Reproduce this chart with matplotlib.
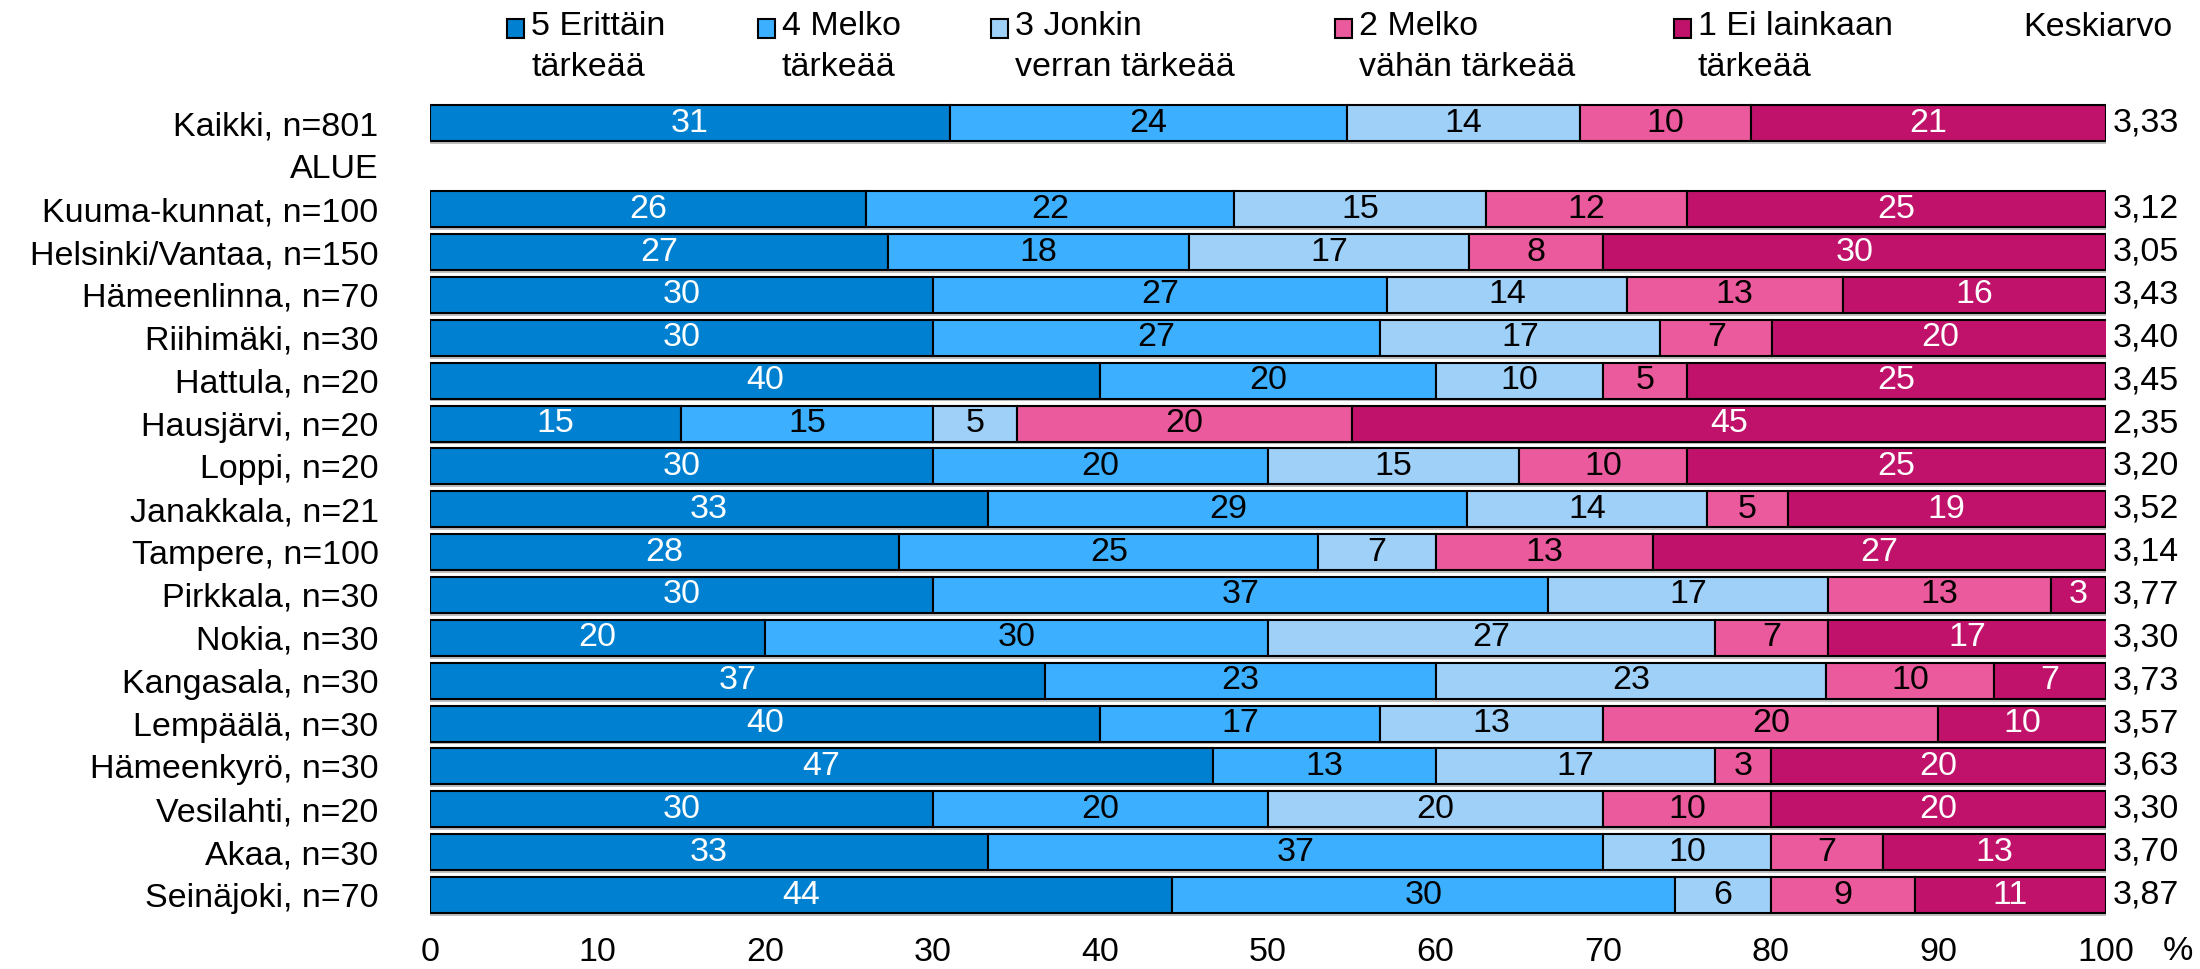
import matplotlib
matplotlib.use("Agg")
import matplotlib.pyplot as plt
import matplotlib.patheffects as pe
from matplotlib.patches import Rectangle
import numpy as np

plt.rcParams['font.family'] = ['Liberation Sans', 'DejaVu Sans']
plt.rcParams['font.size'] = 24.5

nan = np.nan

# rows, top to bottom ("ALUE" is a group header without a bar)
categories = ["Kaikki, n=801", "ALUE", "Kuuma-kunnat, n=100", "Helsinki/Vantaa, n=150",
              "Hämeenlinna, n=70", "Riihimäki, n=30", "Hattula, n=20", "Hausjärvi, n=20",
              "Loppi, n=20", "Janakkala, n=21", "Tampere, n=100", "Pirkkala, n=30",
              "Nokia, n=30", "Kangasala, n=30", "Lempäälä, n=30", "Hämeenkyrö, n=30",
              "Vesilahti, n=20", "Akaa, n=30", "Seinäjoki, n=70"]

# shares (%) per answer option
s5 = [31.0, nan, 26, 27.3, 30.0, 30.0, 40, 15, 30, 33.3, 28, 30.0, 20.0, 36.7, 40.0, 46.7, 30, 33.3, 44.3]
s4 = [23.7, nan, 22, 18.0, 27.1, 26.7, 20, 15, 20, 28.6, 25, 36.7, 30.0, 23.3, 16.7, 13.3, 20, 36.7, 30.0]
s3 = [13.9, nan, 15, 16.7, 14.3, 16.7, 10, 5, 15, 14.3, 7, 16.7, 26.7, 23.3, 13.3, 16.7, 20, 10.0, 5.7]
s2 = [10.2, nan, 12, 8.0, 12.9, 6.7, 5, 20, 10, 4.8, 13, 13.3, 6.7, 10.0, 20.0, 3.3, 10, 6.7, 8.6]
s1 = [21.2, nan, 25, 30.0, 15.7, 20.0, 25, 45, 25, 19.0, 27, 3.3, 16.7, 6.7, 10.0, 20.0, 20, 13.3, 11.4]

means = [3.33, nan, 3.12, 3.05, 3.43, 3.40, 3.45, 2.35, 3.20, 3.52, 3.14, 3.77,
         3.30, 3.73, 3.57, 3.63, 3.30, 3.70, 3.87]

series_labels = ["5 Erittäin\ntärkeää", "4 Melko\ntärkeää", "3 Jonkin\nverran tärkeää",
                 "2 Melko\nvähän tärkeää", "1 Ei lainkaan\ntärkeää"]
colors = ["#0080D0", "#3CB0FF", "#9FD0F8", "#EB5A9C", "#C0126A"]
text_colors = ["white", "black", "black", "black", "white"]

W, H = 2200, 969
fig = plt.figure(figsize=(W / 100, H / 100), dpi=100)
ax = fig.add_axes([430 / W, 1 - 916.5 / H, (2106 - 430) / W, (916.5 - 102) / H])

y = np.arange(len(categories))
left = np.zeros(len(categories))
shadow = [pe.SimplePatchShadow(offset=(0, -2), shadow_rgbFace='0.75', alpha=1), pe.Normal()]
for vals, col, tcol in zip([s5, s4, s3, s2, s1], colors, text_colors):
    vals = np.array(vals, dtype=float)
    ax.barh(y, vals, left=left, height=0.84, color=col, edgecolor='black',
            linewidth=1.5, path_effects=shadow)
    for yi, v, l in zip(y, vals, left):
        if not np.isnan(v):
            ax.text(l + v / 2, yi, f"{v:.0f}", ha='center', va='center', color=tcol)
    left = left + np.nan_to_num(vals)

for yi, m in zip(y, means):
    if not np.isnan(m):
        ax.text(100.4, yi, f"{m:.2f}".replace('.', ','), ha='left', va='center')

ax.set_xlim(0, 100)
ax.set_ylim(len(categories) - 0.5, -0.5)
ax.set_yticks(y)
ax.set_yticklabels(categories)
ax.set_xticks(np.arange(0, 101, 10))
ax.tick_params(axis='y', length=0, pad=37)
ax.tick_params(axis='x', length=0, pad=15)
for s in ax.spines.values():
    s.set_visible(False)

fig.text(2178 / W, 1 - 951 / H, "%", ha='center', va='center')

# legend drawn by hand so the swatch sits next to the first text line
leg_x = [507, 758, 991, 1335, 1674]
for lx, lab, col in zip(leg_x, series_labels, colors):
    fig.patches.append(Rectangle((lx / W, 1 - 38 / H), 17 / W, 19 / H, transform=fig.transFigure,
                                 facecolor=col, edgecolor='black', linewidth=1.5))
    fig.text((lx + 24) / W, 1 - 11 / H, lab, ha='left', va='top', linespacing=1.4)

fig.text(2172 / W, 1 - 28 / H, "Keskiarvo", ha='right', va='center')

fig.savefig("out.png", dpi=100)
